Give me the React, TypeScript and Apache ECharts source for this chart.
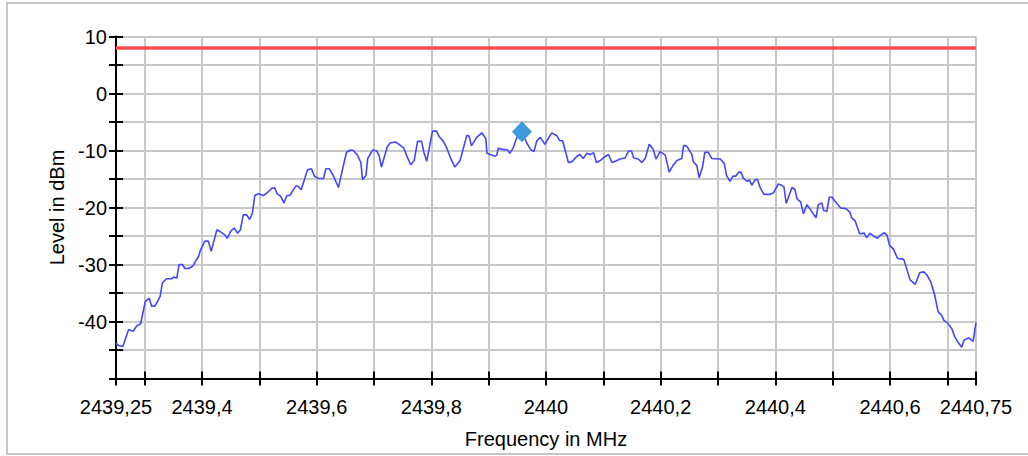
import React, { useEffect, useRef } from 'react';
import * as echarts from 'echarts';

// Spectrum trace (frequency in MHz, level in dBm)
const freqMHz = [
  2439.25, 2439.254, 2439.262, 2439.272, 2439.28, 2439.286, 2439.293, 2439.301, 2439.308, 2439.312,
  2439.318, 2439.327, 2439.331, 2439.338, 2439.347, 2439.351, 2439.356, 2439.36, 2439.366, 2439.37,
  2439.376, 2439.384, 2439.39, 2439.394, 2439.398, 2439.405, 2439.411, 2439.416, 2439.426, 2439.431,
  2439.44, 2439.444, 2439.45, 2439.456, 2439.462, 2439.467, 2439.472, 2439.478, 2439.483, 2439.488,
  2439.492, 2439.498, 2439.507, 2439.516, 2439.522, 2439.527, 2439.531, 2439.537, 2439.543, 2439.548,
  2439.553, 2439.564, 2439.568, 2439.573, 2439.578, 2439.584, 2439.591, 2439.596, 2439.603, 2439.612,
  2439.616, 2439.622, 2439.629, 2439.638, 2439.644, 2439.652, 2439.659, 2439.664, 2439.671, 2439.677,
  2439.68, 2439.686, 2439.689, 2439.698, 2439.705, 2439.709, 2439.713, 2439.723, 2439.728, 2439.737,
  2439.742, 2439.752, 2439.757, 2439.764, 2439.77, 2439.776, 2439.783, 2439.787, 2439.792, 2439.802,
  2439.809, 2439.814, 2439.821, 2439.827, 2439.833, 2439.841, 2439.85, 2439.862, 2439.866, 2439.87,
  2439.879, 2439.888, 2439.895, 2439.897, 2439.911, 2439.914, 2439.917, 2439.924, 2439.933, 2439.937,
  2439.943, 2439.949, 2439.958, 2439.966, 2439.973, 2439.979, 2439.984, 2439.99, 2439.998, 2440.01,
  2440.019, 2440.024, 2440.029, 2440.039, 2440.045, 2440.054, 2440.059, 2440.065, 2440.071, 2440.077,
  2440.083, 2440.088, 2440.094, 2440.1, 2440.109, 2440.115, 2440.123, 2440.129, 2440.138, 2440.144,
  2440.149, 2440.153, 2440.161, 2440.167, 2440.173, 2440.18, 2440.187, 2440.192, 2440.199, 2440.208,
  2440.215, 2440.221, 2440.228, 2440.234, 2440.237, 2440.24, 2440.245, 2440.254, 2440.257, 2440.263,
  2440.267, 2440.273, 2440.277, 2440.283, 2440.289, 2440.304, 2440.311, 2440.315, 2440.321, 2440.326,
  2440.331, 2440.336, 2440.34, 2440.344, 2440.35, 2440.355, 2440.359, 2440.365, 2440.369, 2440.373,
  2440.38, 2440.39, 2440.397, 2440.405, 2440.411, 2440.415, 2440.419, 2440.429, 2440.434, 2440.438,
  2440.444, 2440.449, 2440.455, 2440.46, 2440.471, 2440.475, 2440.481, 2440.484, 2440.49, 2440.494,
  2440.499, 2440.504, 2440.514, 2440.523, 2440.53, 2440.533, 2440.539, 2440.547, 2440.555, 2440.559,
  2440.565, 2440.571, 2440.578, 2440.583, 2440.59, 2440.595, 2440.599, 2440.606, 2440.613, 2440.624,
  2440.629, 2440.635, 2440.644, 2440.652, 2440.659, 2440.664, 2440.671, 2440.678, 2440.684, 2440.69,
  2440.694, 2440.7, 2440.708, 2440.713, 2440.719, 2440.725, 2440.729, 2440.734, 2440.738, 2440.745,
  2440.75,
];

const levelDbm = [
  -43.8, -44.2, -44.4, -41.4, -41.7, -40.8, -40.4, -36.5, -35.9, -37.3,
  -37.3, -35.6, -33.2, -32.5, -32.5, -32.2, -32.4, -30.0, -30.0, -30.7,
  -30.7, -30.3, -29.2, -28.6, -27.3, -25.9, -25.9, -27.7, -23.9, -24.2,
  -24.8, -25.4, -24.2, -23.6, -24.5, -23.9, -21.3, -21.3, -22.1, -21.0,
  -17.9, -17.6, -17.9, -17.2, -16.6, -16.6, -17.6, -18.0, -19.2, -17.9,
  -17.9, -16.2, -16.3, -16.9, -15.3, -13.4, -13.2, -14.5, -14.9, -14.9,
  -13.2, -13.2, -14.4, -16.5, -13.8, -10.3, -9.9, -10.0, -10.8, -12.1,
  -15.1, -14.4, -11.4, -9.9, -10.1, -10.9, -12.9, -9.4, -8.7, -8.5,
  -8.8, -9.6, -10.9, -12.5, -11.8, -8.4, -8.4, -10.3, -11.9, -6.6,
  -6.6, -7.6, -8.4, -9.6, -11.2, -12.9, -11.8, -7.3, -7.5, -9.2,
  -7.7, -6.9, -7.9, -10.5, -11.0, -10.8, -9.6, -9.8, -9.9, -10.5,
  -9.5, -7.7, -6.6, -8.6, -9.8, -10.2, -8.3, -7.7, -8.9, -6.9,
  -7.4, -8.3, -8.3, -12.1, -12.0, -11.0, -10.7, -11.4, -10.5, -10.7,
  -10.4, -12.1, -11.8, -11.3, -10.7, -12.1, -11.8, -11.5, -11.3, -10.1,
  -10.1, -11.3, -11.5, -12.1, -11.4, -8.9, -9.8, -11.5, -10.2, -10.8,
  -13.8, -12.7, -11.8, -11.5, -11.4, -9.1, -9.2, -10.6, -12.0, -12.6,
  -14.8, -12.9, -10.3, -10.3, -11.4, -11.5, -12.3, -14.4, -15.4, -14.5,
  -14.5, -13.8, -13.8, -14.8, -15.4, -15.2, -16.1, -15.1, -15.1, -16.4,
  -17.7, -17.7, -17.4, -15.9, -16.1, -16.4, -19.3, -16.5, -16.8, -18.5,
  -19.0, -21.1, -19.5, -20.2, -21.8, -19.5, -19.2, -20.5, -20.7, -18.2,
  -18.2, -18.9, -20.1, -20.2, -20.8, -21.8, -22.3, -24.6, -24.5, -25.3,
  -24.5, -25.0, -25.4, -24.9, -24.4, -24.9, -26.6, -27.3, -28.9, -29.1,
  -30.7, -32.7, -33.5, -31.4, -31.3, -31.8, -33.0, -35.4, -38.3, -38.9,
  -39.8, -40.2, -41.3, -42.7, -43.7, -44.5, -43.3, -43.0, -42.9, -43.5,
  -40.2,
];

const limitLevel = 8;
const peakMarker = [2439.958, -6.7];

const xMin = 2439.25;
const xMax = 2440.75;
const xTickValues = [
  2439.25, 2439.3, 2439.4, 2439.5, 2439.6, 2439.7, 2439.8, 2439.9, 2440.0,
  2440.1, 2440.2, 2440.3, 2440.4, 2440.5, 2440.6, 2440.7, 2440.75,
];
const xLabelValues = [2439.25, 2439.4, 2439.6, 2439.8, 2440, 2440.2, 2440.4, 2440.6, 2440.75];

const yMin = -50;
const yMax = 10;
const yStep = 5;
const yLabelValues = [10, 0, -10, -20, -30, -40];

const FONT = '"Liberation Sans", Arial, Helvetica, sans-serif';
const BLACK = '#000000';
const GRID_GRAY = '#c8c8c8';

export default function App() {
  const ref = useRef<HTMLDivElement>(null);

  useEffect(() => {
    if (!ref.current) return;
    const chart = echarts.init(ref.current, undefined, { renderer: 'svg' });

    const spectrum = freqMHz.map((f, i) => [f, levelDbm[i]]);
    const gridBox = { left: 116, top: 36.5, width: 860, height: 342 };

    const option: any = {
      animation: false,
      backgroundColor: '#ffffff',
      textStyle: { fontFamily: FONT },
      graphic: [
        {
          type: 'rect',
          silent: true,
          shape: { x: 7, y: 3, width: 1040, height: 451 },
          style: { fill: 'none', stroke: '#b4b4b4', lineWidth: 1.5 },
        },
      ],
      grid: [
        { ...gridBox, containLabel: false },
        { ...gridBox, containLabel: false },
      ],
      xAxis: [
        {
          type: 'value',
          gridIndex: 0,
          min: xMin,
          max: xMax,
          position: 'bottom',
          name: 'Frequency in MHz',
          nameLocation: 'middle',
          nameGap: 50,
          nameTextStyle: { fontSize: 20, color: BLACK, fontFamily: FONT },
          axisLine: { show: true, onZero: false, lineStyle: { color: BLACK, width: 2 } },
          axisTick: {
            show: true,
            customValues: xTickValues,
            length: 7,
            lineStyle: { color: BLACK, width: 2 },
          },
          axisLabel: {
            show: true,
            customValues: xLabelValues,
            margin: 18,
            fontSize: 20,
            color: BLACK,
            fontFamily: FONT,
            formatter: (v: number) => String(v).replace('.', ','),
          },
          splitLine: { show: true, lineStyle: { color: GRID_GRAY, width: 2 } },
        },
        {
          type: 'value',
          gridIndex: 1,
          min: xMin,
          max: xMax,
          position: 'bottom',
          axisLine: { show: false, onZero: false },
          axisTick: {
            show: true,
            inside: true,
            customValues: xTickValues,
            length: 7,
            lineStyle: { color: BLACK, width: 2 },
          },
          axisLabel: { show: false },
          splitLine: { show: false },
        },
      ],
      yAxis: [
        {
          type: 'value',
          gridIndex: 0,
          min: yMin,
          max: yMax,
          interval: yStep,
          position: 'left',
          name: 'Level in dBm',
          nameLocation: 'middle',
          nameRotate: 90,
          nameGap: 48,
          nameTextStyle: { fontSize: 20, color: BLACK, fontFamily: FONT },
          axisLine: { show: true, onZero: false, lineStyle: { color: BLACK, width: 2 } },
          axisTick: { show: true, length: 7, lineStyle: { color: BLACK, width: 2 } },
          axisLabel: {
            show: true,
            margin: 9,
            fontSize: 20,
            color: BLACK,
            fontFamily: FONT,
            formatter: (v: number) => (yLabelValues.includes(v) ? String(v) : ''),
          },
          splitLine: { show: true, lineStyle: { color: GRID_GRAY, width: 2 } },
        },
        {
          type: 'value',
          gridIndex: 1,
          min: yMin,
          max: yMax,
          interval: yStep,
          position: 'left',
          axisLine: { show: false, onZero: false },
          axisTick: { show: true, inside: true, length: 7, lineStyle: { color: BLACK, width: 2 } },
          axisLabel: { show: false },
          splitLine: { show: false },
        },
      ],
      series: [
        {
          name: 'Limit',
          type: 'line',
          xAxisIndex: 0,
          yAxisIndex: 0,
          data: [
            [xMin, limitLevel],
            [xMax, limitLevel],
          ],
          showSymbol: false,
          silent: true,
          lineStyle: { color: '#ff4b4b', width: 3.5 },
          z: 3,
        },
        {
          name: 'Spectrum',
          type: 'line',
          xAxisIndex: 0,
          yAxisIndex: 0,
          data: spectrum,
          showSymbol: false,
          silent: true,
          lineStyle: { color: '#4646ff', width: 1.6 },
          z: 4,
        },
        {
          name: 'Marker',
          type: 'scatter',
          xAxisIndex: 0,
          yAxisIndex: 0,
          data: [peakMarker],
          symbol: 'diamond',
          symbolSize: [20, 21],
          itemStyle: { color: '#3d9bdc', opacity: 1 },
          silent: true,
          z: 5,
        },
      ],
    };

    chart.setOption(option);
    return () => {
      chart.dispose();
    };
  }, []);

  return (
    <div
      ref={ref}
      style={{ position: 'absolute', left: 0, top: 0, width: 1028, height: 456 }}
    />
  );
}
